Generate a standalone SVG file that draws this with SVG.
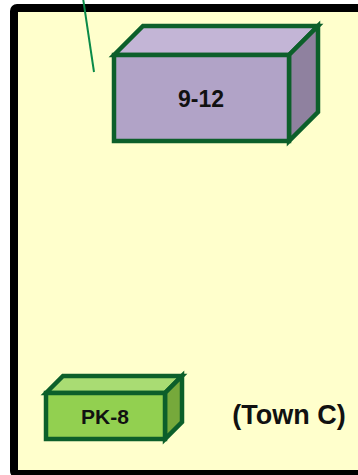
<svg xmlns="http://www.w3.org/2000/svg" width="358" height="475" viewBox="0 0 358 475">
<style>
.edge{stroke:#0C5F2A;stroke-width:4.5;stroke-linejoin:miter;}
.lbl{font-family:"Liberation Sans",Arial,sans-serif;font-weight:bold;fill:#111;text-anchor:middle;}
</style>
<rect x="0" y="0" width="358" height="475" fill="#FFFFFF"/>
<g id="frame">
<rect x="14" y="8" width="360" height="466" rx="3" fill="#FFFFCC" stroke="#000" stroke-width="8"/>
</g>
<g id="connectors">
<line x1="83" y1="-2" x2="94" y2="72" stroke="#0A8A48" stroke-width="2"/>
</g>
<g id="node-9-12">
<polygon class="edge" points="114,55 143,26 318,26 289,55" fill="#C3B5D6"/>
<polygon class="edge" points="289,55 318,26 318,112 289,141" fill="#8F819F"/>
<rect class="edge" x="114" y="55" width="175" height="86" fill="#B1A3C7"/>
<text class="lbl" x="201" y="107" font-size="23">9-12</text>
</g>
<g id="node-pk-8">
<polygon class="edge" points="46,393 63,376 182,376 165,393" fill="#A9DC73"/>
<polygon class="edge" points="165,393 182,376 182,422 165,439" fill="#76A93B"/>
<rect class="edge" x="46" y="393" width="119" height="46" fill="#92D050"/>
<text class="lbl" x="105" y="424" font-size="21">PK-8</text>
</g>
<g id="label-town">
<text class="lbl" x="289" y="424" font-size="27">(Town C)</text>
</g>
</svg>
